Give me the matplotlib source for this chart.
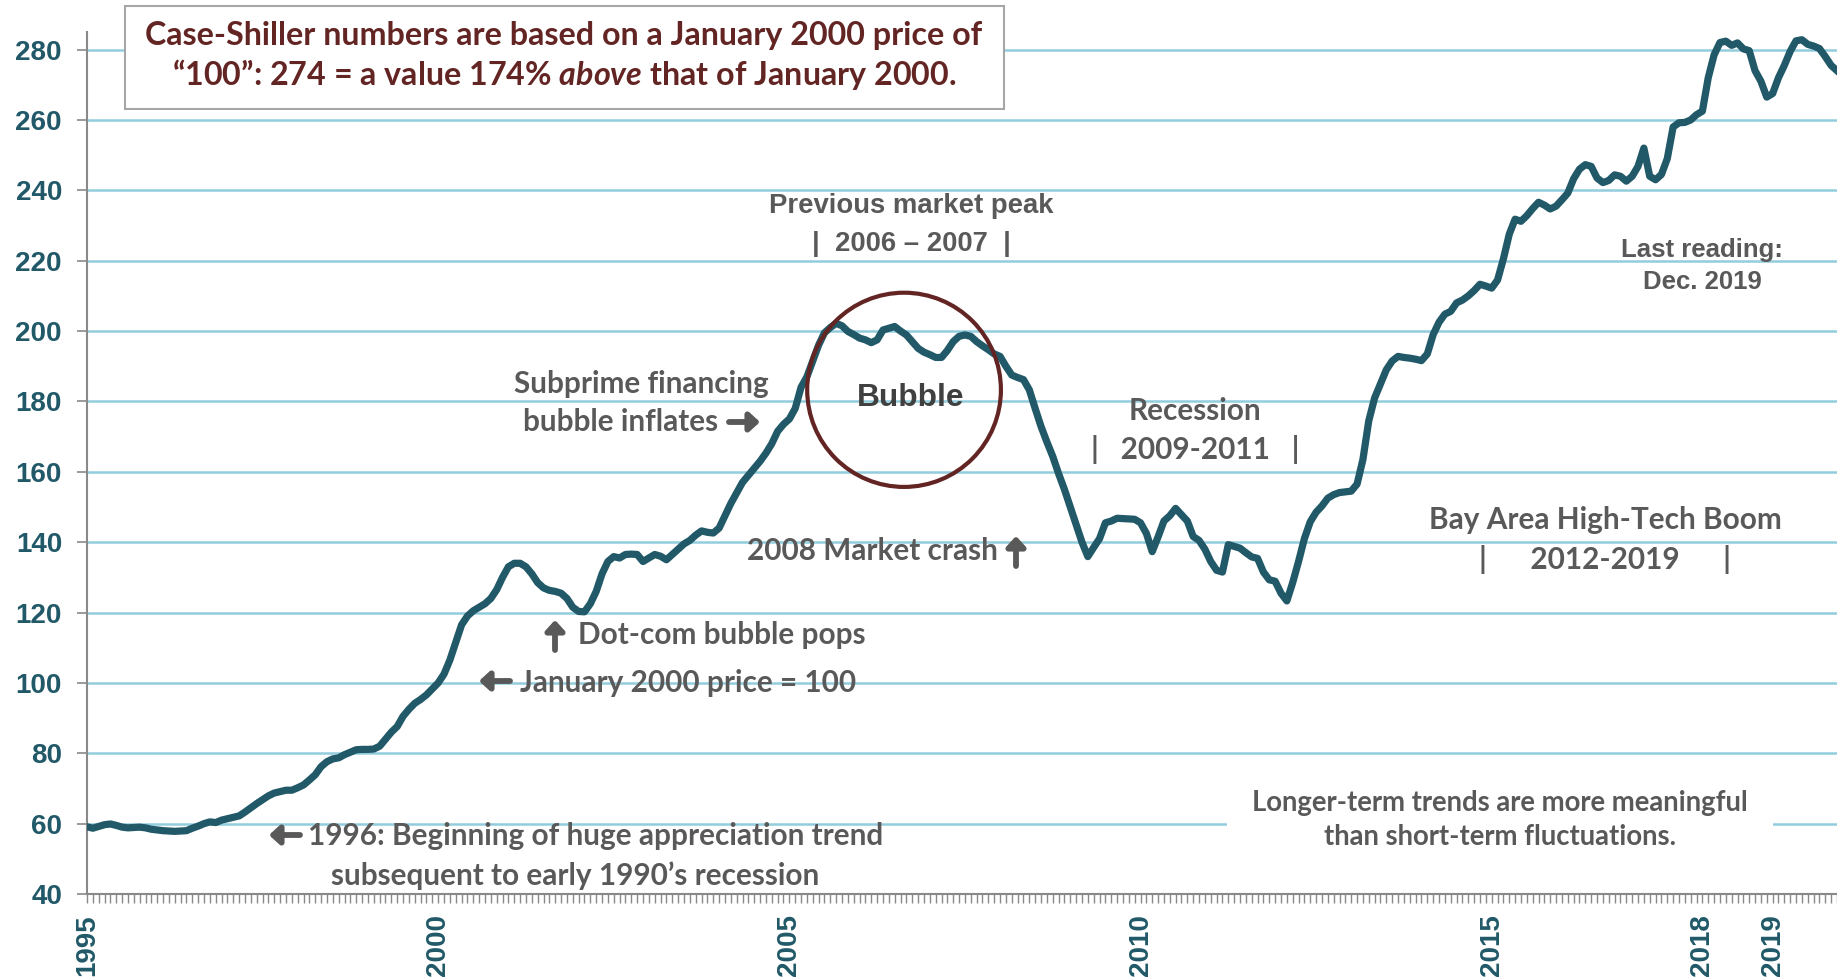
# Case-Shiller home price index, Jan 1995 - Dec 2019, with annotations

import matplotlib
matplotlib.use('Agg')
import matplotlib.pyplot as plt
from matplotlib.patches import Ellipse, Rectangle

# monthly index values (Jan 2000 = 100)
idx_1995 = [59.1, 58.7, 59.2, 59.7, 59.9, 59.5, 59.0, 58.8, 58.9, 59.0, 58.8, 58.4]
idx_1996 = [58.2, 58.0, 57.9, 57.8, 57.9, 58.0, 58.7, 59.3, 60.0, 60.5, 60.3, 61.0]
idx_1997 = [61.4, 61.8, 62.2, 63.3, 64.5, 65.7, 66.8, 67.9, 68.7, 69.1, 69.5, 69.5]
idx_1998 = [70.2, 71.0, 72.4, 73.9, 76.2, 77.6, 78.4, 78.7, 79.6, 80.3, 81.0, 81.1]
idx_1999 = [81.1, 81.2, 82.0, 84.0, 86.0, 87.6, 90.5, 92.5, 94.2, 95.3, 96.6, 98.3]
idx_2000 = [100.0, 102.5, 106.5, 111.5, 116.5, 119.0, 120.5, 121.5, 122.5, 124.0, 126.5, 130.0]
idx_2001 = [133.0, 134.0, 134.0, 133.0, 131.0, 128.5, 127.0, 126.3, 126.0, 125.5, 124.0, 121.5]
idx_2002 = [120.3, 120.2, 122.5, 126.0, 131.0, 134.5, 135.9, 135.5, 136.5, 136.6, 136.5, 134.5]
idx_2003 = [135.5, 136.5, 136.0, 135.0, 136.5, 138.0, 139.5, 140.5, 142.0, 143.2, 142.8, 142.6]
idx_2004 = [144.0, 147.5, 151.0, 154.0, 157.0, 159.0, 161.0, 163.0, 165.3, 168.0, 171.5, 173.5]
idx_2005 = [175.0, 178.0, 184.0, 187.0, 191.5, 196.0, 199.5, 201.0, 202.2, 201.5, 199.9, 199.0]
idx_2006 = [198.0, 197.5, 196.7, 197.5, 200.3, 200.8, 201.3, 200.0, 198.9, 197.0, 195.1, 194.0]
idx_2007 = [193.3, 192.5, 192.5, 194.5, 197.0, 198.5, 198.9, 198.5, 197.0, 195.8, 194.7, 193.5]
idx_2008 = [192.8, 190.0, 187.5, 186.8, 186.2, 183.3, 178.0, 172.9, 168.5, 164.4, 159.5, 155.0]
idx_2009 = [150.0, 145.0, 140.0, 135.9, 138.5, 141.0, 145.5, 146.0, 146.8, 146.7, 146.6, 146.5]
idx_2010 = [145.5, 142.5, 137.3, 141.5, 146.0, 147.5, 149.6, 147.8, 146.0, 141.6, 140.5, 138.0]
idx_2011 = [134.5, 132.0, 131.5, 139.3, 138.8, 138.3, 137.0, 135.8, 135.4, 131.5, 129.3, 128.9]
idx_2012 = [125.5, 123.3, 128.5, 134.5, 141.0, 145.8, 148.5, 150.3, 152.5, 153.5, 154.1, 154.3]
idx_2013 = [154.5, 156.5, 163.5, 174.5, 181.0, 185.0, 189.0, 191.5, 192.8, 192.5, 192.3, 192.0]
idx_2014 = [191.6, 193.5, 199.0, 202.5, 204.8, 205.6, 208.0, 208.8, 210.0, 211.5, 213.3, 212.8]
idx_2015 = [212.2, 214.5, 220.5, 227.5, 231.8, 231.2, 232.8, 234.8, 236.6, 235.8, 234.7, 235.5]
idx_2016 = [237.3, 239.2, 243.3, 246.0, 247.3, 246.8, 243.5, 242.2, 242.8, 244.4, 244.0, 242.6]
idx_2017 = [244.0, 246.8, 252.0, 244.0, 243.0, 244.5, 249.0, 258.0, 259.2, 259.3, 260.0, 261.5]
idx_2018 = [262.5, 272.0, 278.5, 282.0, 282.4, 281.2, 281.9, 280.2, 279.7, 274.0, 271.0, 266.5]
idx_2019 = [267.5, 272.0, 275.5, 279.5, 282.5, 282.8, 281.5, 281.0, 280.3, 278.0, 275.5, 274.0]

first_year = 1995
tick_years = [1995, 2000, 2005, 2010, 2015, 2018, 2019]
y_ticks = [40, 60, 80, 100, 120, 140, 160, 180, 200, 220, 240, 260, 280]

values = (idx_1995 + idx_1996 + idx_1997 + idx_1998 + idx_1999 + idx_2000 + idx_2001
          + idx_2002 + idx_2003 + idx_2004 + idx_2005 + idx_2006 + idx_2007 + idx_2008
          + idx_2009 + idx_2010 + idx_2011 + idx_2012 + idx_2013 + idx_2014 + idx_2015
          + idx_2016 + idx_2017 + idx_2018 + idx_2019)
months = list(range(len(values)))

TEAL = '#215968'
GRID = '#93CDDD'
AXIS = '#898989'
GRAY = '#595959'
RED = '#632523'
CAL = ['Lato', 'DejaVu Sans']
ARIAL = ['Liberation Sans', 'DejaVu Sans']

# italic "above" in the note box
plt.rcParams['mathtext.fontset'] = 'custom'
plt.rcParams['mathtext.rm'] = 'Lato:bold'
plt.rcParams['mathtext.it'] = 'Lato:italic:bold'

W, H = 1837, 980
fig = plt.figure(figsize=(W / 100, H / 100), dpi=100)
ax = fig.add_axes([87 / W, 1 - 894 / H, 1750 / W, (894 - 32) / H])

ax.plot(months, values, color=TEAL, linewidth=5.2, solid_joinstyle='round', zorder=3)

ax.set_xlim(0, len(values) - 1)
ax.set_ylim(40, 285)
ax.set_yticks(y_ticks)
ax.set_yticklabels([str(v) for v in y_ticks])
ax.set_xticks([(y - first_year) * 12 for y in tick_years])
ax.set_xticklabels([str(y) for y in tick_years], rotation=90)
ax.set_xticks(months, minor=True)

for lab in ax.get_xticklabels() + ax.get_yticklabels():
    lab.set_fontfamily(ARIAL)
    lab.set_fontweight('bold')
    lab.set_fontsize(20)
    lab.set_color(TEAL)

ax.tick_params(axis='y', direction='out', length=7, width=1.2, color=AXIS, pad=11)
ax.tick_params(axis='x', which='both', direction='out', length=6.5, width=1, color=AXIS, pad=8)
ax.grid(axis='y', color=GRID, linewidth=1.8, zorder=0)
ax.set_axisbelow(True)
for s in ['top', 'right']:
    ax.spines[s].set_visible(False)
for s in ['left', 'bottom']:
    ax.spines[s].set_color(AXIS)
    ax.spines[s].set_linewidth(1.5)

# bubble circle around the 2006-2007 peak
ax.add_patch(Ellipse((139.6, 183.3), 33.1, 55.2, fill=False, edgecolor=RED, linewidth=3, zorder=4))


def ftext(x, y, s, size=21.4, family=CAL, color=GRAY, **kw):
    fig.text(x / W, 1 - y / H, s, ha='center', va='center', fontsize=size,
             fontfamily=family, fontweight='bold', color=color, zorder=6, **kw)


def arrow(x0, y0, x1, y1):
    fig.add_artist(plt.Annotation('', xy=(x1, H - y1), xytext=(x0, H - y0),
                                  xycoords='figure pixels', textcoords='figure pixels',
                                  arrowprops=dict(arrowstyle='-|>,head_length=0.6,head_width=0.55',
                                                  lw=4.2, color=GRAY, shrinkA=0, shrinkB=0)))


# note box at the top
fig.add_artist(Rectangle((125 / W, 1 - 109 / H), (1004 - 125) / W, (109 - 6) / H,
                         transform=fig.transFigure, facecolor='white', edgecolor='#A6A6A6',
                         linewidth=1.5, zorder=5))
ftext(564, 36, 'Case-Shiller numbers are based on a January 2000 price of', size=23.2, color=RED)
ftext(564, 75, '\u201c100\u201d: 274 = a value 174% $\\it{above}$ that of January 2000.', size=23.2, color=RED)

ftext(911, 206, 'Previous market peak', size=19.8, family=ARIAL)
ftext(911, 244, '|  2006 \u2013 2007  |', size=19.8, family=ARIAL)
ftext(1702, 250, 'Last reading:', size=18.5, family=ARIAL)
ftext(1702, 282, 'Dec. 2019', size=18.5, family=ARIAL)
ftext(911, 398, 'Bubble', size=22.8, family=ARIAL, color='#404040')

ftext(641, 384, 'Subprime financing')
ftext(621, 422, 'bubble inflates')
arrow(729, 422, 760, 422)
ftext(872, 551, '2008 Market crash')
arrow(1016, 566, 1016, 536)
ftext(722, 635, 'Dot-com bubble pops')
arrow(555, 650, 555, 620)
ftext(688, 683, 'January 2000 price = 100')
arrow(510, 681, 479, 681)
ftext(596, 836, '1996: Beginning of huge appreciation trend')
arrow(300, 835, 269, 835)
ftext(575, 876, 'subsequent to early 1990\u2019s recession')
ftext(1195, 411, 'Recession')
ftext(1195, 449, '|   2009-2011   |')
ftext(1605, 520, 'Bay Area High-Tech Boom')
ftext(1605, 560, '|      2012-2019      |')
fig.text(1500 / W, 1 - 820 / H, 'Longer-term trends are more meaningful\nthan short-term fluctuations.',
         ha='center', va='center', fontsize=19.8, fontfamily=CAL, fontweight='bold', color=GRAY,
         linespacing=1.35, zorder=6,
         bbox=dict(boxstyle='square,pad=0.9', facecolor='white', edgecolor='none'))

fig.savefig('out.png', dpi=100)
